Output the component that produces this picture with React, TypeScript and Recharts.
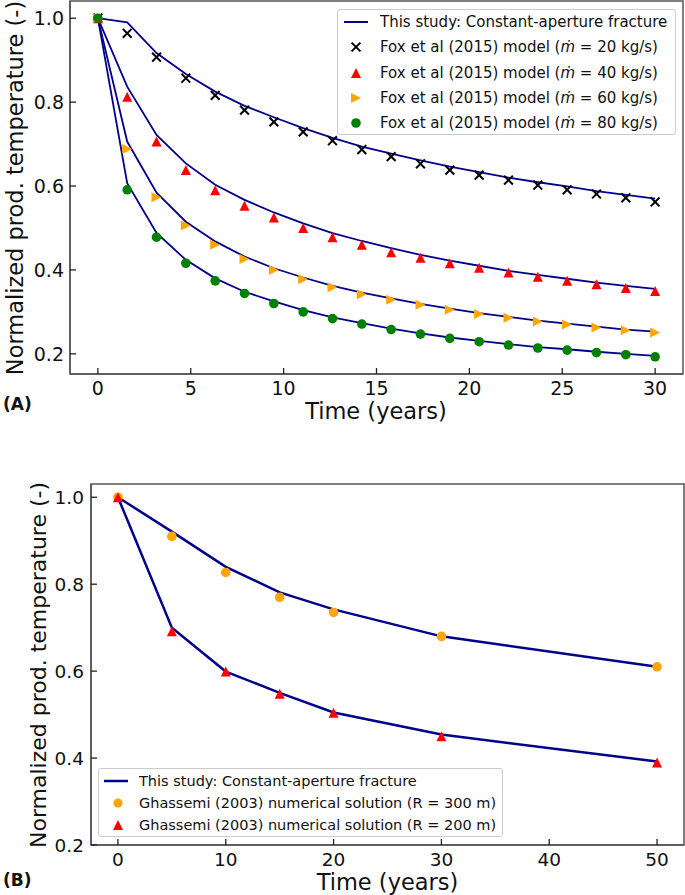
import { ComposedChart, Line, Scatter, XAxis, YAxis, Legend, ReferenceArea } from "recharts";

const FONT = "'DejaVu Sans', sans-serif";
const NAVY = "#00008B";
const SPINE = "#555555";

// Panel A: Fox et al (2015) comparison
const timeA = [
  0, 1.579, 3.158, 4.737, 6.316, 7.895, 9.474, 11.053, 12.632, 14.211, 15.789,
  17.368, 18.947, 20.526, 22.105, 23.684, 25.263, 26.842, 28.421, 30,
];
const line20 = [1.0, 0.99, 0.917, 0.867, 0.825, 0.791, 0.764, 0.738, 0.715, 0.694, 0.677, 0.661, 0.646, 0.633, 0.62, 0.609, 0.599, 0.588, 0.579, 0.57];
const line40 = [1.0, 0.837, 0.722, 0.654, 0.603, 0.567, 0.537, 0.511, 0.488, 0.469, 0.452, 0.436, 0.422, 0.41, 0.398, 0.388, 0.379, 0.37, 0.362, 0.355];
const line60 = [1.0, 0.706, 0.584, 0.515, 0.468, 0.432, 0.404, 0.382, 0.362, 0.346, 0.332, 0.319, 0.308, 0.297, 0.288, 0.279, 0.272, 0.265, 0.258, 0.253];
const line80 = [1.0, 0.607, 0.488, 0.424, 0.38, 0.348, 0.325, 0.304, 0.287, 0.273, 0.26, 0.249, 0.239, 0.231, 0.223, 0.216, 0.211, 0.205, 0.2, 0.195];
const fox20 = [1.0, 0.964, 0.907, 0.857, 0.816, 0.781, 0.753, 0.729, 0.708, 0.687, 0.67, 0.653, 0.638, 0.626, 0.614, 0.602, 0.591, 0.581, 0.572, 0.562];
const fox40 = [1.0, 0.813, 0.706, 0.638, 0.59, 0.553, 0.525, 0.5, 0.478, 0.46, 0.442, 0.429, 0.416, 0.405, 0.394, 0.384, 0.374, 0.366, 0.357, 0.35];
const fox60 = [1.0, 0.688, 0.573, 0.506, 0.46, 0.426, 0.4, 0.378, 0.359, 0.342, 0.329, 0.317, 0.305, 0.295, 0.286, 0.277, 0.27, 0.263, 0.256, 0.251];
const fox80 = [1.0, 0.591, 0.478, 0.416, 0.374, 0.344, 0.32, 0.3, 0.284, 0.271, 0.258, 0.247, 0.237, 0.229, 0.221, 0.214, 0.209, 0.203, 0.198, 0.193];

// Panel B: Ghassemi (2003) comparison
const timeB = [0, 5, 10, 15, 20, 30, 50];
const line300 = [1.0, 0.921, 0.84, 0.781, 0.742, 0.68, 0.61];
const line200 = [1.0, 0.7, 0.599, 0.55, 0.505, 0.454, 0.392];
const ghassemi300 = [1.0, 0.91, 0.827, 0.77, 0.735, 0.68, 0.61];
const ghassemi200 = [1.0, 0.692, 0.599, 0.548, 0.504, 0.45, 0.39];

const xTicksA = [0, 5, 10, 15, 20, 25, 30];
const xTicksB = [0, 10, 20, 30, 40, 50];
const yTicks = [0.2, 0.4, 0.6, 0.8, 1.0];

const xDomA: [number, number] = [-1.5, 31.5];
const yDomA: [number, number] = [0.152, 1.041];
const xDomB: [number, number] = [-2.5, 52.5];
const yDomB: [number, number] = [0.2, 1.0305];

const pts = (t: number[], v: number[]) => t.map((x, i) => ({ t: x, v: v[i] }));

// markers, matplotlib-like
const Cross = ({ cx, cy }: any) => {
  const h = 4.4;
  return (
    <path
      d={`M${cx - h},${cy - h}L${cx + h},${cy + h}M${cx - h},${cy + h}L${cx + h},${cy - h}`}
      stroke="#000"
      strokeWidth={2}
    />
  );
};
const TriUp = ({ cx, cy, h = 5, color = "#ff0000" }: any) => (
  <polygon points={`${cx},${cy - h} ${cx - h},${cy + h} ${cx + h},${cy + h}`} fill={color} />
);
const TriRight = ({ cx, cy, h = 5, color = "#ffa500" }: any) => (
  <polygon points={`${cx + h},${cy} ${cx - h},${cy - h} ${cx - h},${cy + h}`} fill={color} />
);
const Dot = ({ cx, cy, r = 4.8, color = "#008000" }: any) => (
  <circle cx={cx} cy={cy} r={r} fill={color} />
);

function makeXTick(fontSize: number) {
  return (props: any) => {
    const { x, y, payload } = props;
    return (
      <g>
        <line x1={x} y1={y} x2={x} y2={y - 6} stroke="#222" strokeWidth={1.3} />
        <text x={x} y={y + 21} textAnchor="middle" fontSize={fontSize} fill="#111" fontFamily={FONT}>
          {payload.value}
        </text>
      </g>
    );
  };
}

function makeYTick(fontSize: number, gap: number) {
  return (props: any) => {
    const { x, y, payload } = props;
    return (
      <g>
        <line x1={x} y1={y} x2={x + 6} y2={y} stroke="#222" strokeWidth={1.3} />
        <text x={x - gap} y={y} dy="0.36em" textAnchor="end" fontSize={fontSize} fill="#111" fontFamily={FONT}>
          {Number(payload.value).toFixed(1)}
        </text>
      </g>
    );
  };
}

const mdot = <i>ṁ</i>;

function LegendA() {
  const rows = [
    { icon: <line x1={6} y1={12} x2={30} y2={12} stroke={NAVY} strokeWidth={2} />, text: <>This study: Constant-aperture fracture</> },
    { icon: <Cross cx={18} cy={12} />, text: <>Fox et al (2015) model ({mdot} = 20 kg/s)</> },
    { icon: <TriUp cx={18} cy={12} />, text: <>Fox et al (2015) model ({mdot} = 40 kg/s)</> },
    { icon: <TriRight cx={18} cy={12} />, text: <>Fox et al (2015) model ({mdot} = 60 kg/s)</> },
    { icon: <Dot cx={18} cy={12} />, text: <>Fox et al (2015) model ({mdot} = 80 kg/s)</> },
  ];
  return (
    <div
      style={{
        position: "relative",
        width: 339,
        height: 126,
        boxSizing: "border-box",
        background: "rgba(255,255,255,0.85)",
        border: "1px solid #cccccc",
        borderRadius: 3,
        fontFamily: FONT,
        fontSize: 15,
        color: "#111",
      }}
    >
      {rows.map((r, i) => (
        <div key={i} style={{ position: "absolute", left: 0, top: i * 25.3, height: 24, display: "flex", alignItems: "center", whiteSpace: "nowrap" }}>
          <svg width={42} height={24} style={{ display: "block" }}>{r.icon}</svg>
          <span>{r.text}</span>
        </div>
      ))}
    </div>
  );
}

function LegendB() {
  const rows = [
    { icon: <line x1={5} y1={11} x2={29} y2={11} stroke={NAVY} strokeWidth={2.5} />, text: "This study: Constant-aperture fracture" },
    { icon: <Dot cx={19} cy={11} r={4.6} color="#ffa500" />, text: "Ghassemi (2003) numerical solution (R = 300 m)" },
    { icon: <TriUp cx={19} cy={11} />, text: "Ghassemi (2003) numerical solution (R = 200 m)" },
  ];
  return (
    <div
      style={{
        position: "relative",
        width: 405,
        height: 69,
        boxSizing: "border-box",
        background: "rgba(255,255,255,0.85)",
        border: "1px solid #cccccc",
        borderRadius: 3,
        fontFamily: FONT,
        fontSize: 14.5,
        color: "#111",
      }}
    >
      {rows.map((r, i) => (
        <div key={i} style={{ position: "absolute", left: 0, top: 1 + i * 22, height: 22, display: "flex", alignItems: "center", whiteSpace: "nowrap" }}>
          <svg width={40} height={22} style={{ display: "block" }}>{r.icon}</svg>
          <span>{r.text}</span>
        </div>
      ))}
    </div>
  );
}

function PanelA() {
  const lw = 1.8;
  return (
    <ComposedChart width={685} height={430} margin={{ top: 1, right: 2, bottom: 30, left: 0 }}>
      <XAxis
        dataKey="t"
        type="number"
        domain={xDomA}
        ticks={xTicksA}
        height={26}
        tickSize={0}
        tickMargin={0}
        tickLine={false}
        tick={makeXTick(19)}
        axisLine={{ stroke: SPINE, strokeWidth: 1.5 }}
        allowDataOverflow
      />
      <YAxis
        dataKey="v"
        type="number"
        domain={yDomA}
        ticks={yTicks}
        width={70}
        tickSize={0}
        tickMargin={0}
        tickLine={false}
        tick={makeYTick(19, 6)}
        axisLine={{ stroke: SPINE, strokeWidth: 1.5 }}
        allowDataOverflow
      />
      <ReferenceArea x1={xDomA[0]} x2={xDomA[1]} y1={yDomA[0]} y2={yDomA[1]} fill="none" fillOpacity={0} stroke={SPINE} strokeWidth={1.5} ifOverflow="visible" />
      <Line data={pts(timeA, line20)} dataKey="v" stroke={NAVY} strokeWidth={lw} dot={false} type="linear" isAnimationActive={false} />
      <Line data={pts(timeA, line40)} dataKey="v" stroke={NAVY} strokeWidth={lw} dot={false} type="linear" isAnimationActive={false} />
      <Line data={pts(timeA, line60)} dataKey="v" stroke={NAVY} strokeWidth={lw} dot={false} type="linear" isAnimationActive={false} />
      <Line data={pts(timeA, line80)} dataKey="v" stroke={NAVY} strokeWidth={lw} dot={false} type="linear" isAnimationActive={false} />
      <Scatter data={pts(timeA, fox20)} dataKey="v" shape={(p: any) => <Cross cx={p.cx} cy={p.cy} />} isAnimationActive={false} />
      <Scatter data={pts(timeA, fox40)} dataKey="v" shape={(p: any) => <TriUp cx={p.cx} cy={p.cy} />} isAnimationActive={false} />
      <Scatter data={pts(timeA, fox60)} dataKey="v" shape={(p: any) => <TriRight cx={p.cx} cy={p.cy} />} isAnimationActive={false} />
      <Scatter data={pts(timeA, fox80)} dataKey="v" shape={(p: any) => <Dot cx={p.cx} cy={p.cy} />} isAnimationActive={false} />
      <Legend
        layout="horizontal"
        verticalAlign="middle"
        align="center"
        content={() => <LegendA />}
        wrapperStyle={{ left: 337, top: 9, width: 339, height: 126 }}
      />
    </ComposedChart>
  );
}

function PanelB() {
  const lw = 2.5;
  return (
    <ComposedChart width={685} height={435} margin={{ top: 24, right: 1, bottom: 24, left: 0 }}>
      <XAxis
        dataKey="t"
        type="number"
        domain={xDomB}
        ticks={xTicksB}
        height={26}
        tickSize={0}
        tickMargin={0}
        tickLine={false}
        tick={makeXTick(18.5)}
        axisLine={{ stroke: SPINE, strokeWidth: 1.5 }}
        allowDataOverflow
      />
      <YAxis
        dataKey="v"
        type="number"
        domain={yDomB}
        ticks={yTicks}
        width={91}
        tickSize={0}
        tickMargin={0}
        tickLine={false}
        tick={makeYTick(18.5, 7)}
        axisLine={{ stroke: SPINE, strokeWidth: 1.5 }}
        allowDataOverflow
      />
      <ReferenceArea x1={xDomB[0]} x2={xDomB[1]} y1={yDomB[0]} y2={yDomB[1]} fill="none" fillOpacity={0} stroke={SPINE} strokeWidth={1.5} ifOverflow="visible" />
      <Line data={pts(timeB, line300)} dataKey="v" stroke={NAVY} strokeWidth={lw} dot={false} type="linear" isAnimationActive={false} />
      <Line data={pts(timeB, line200)} dataKey="v" stroke={NAVY} strokeWidth={lw} dot={false} type="linear" isAnimationActive={false} />
      <Scatter data={pts(timeB, ghassemi300)} dataKey="v" shape={(p: any) => <Dot cx={p.cx} cy={p.cy} r={4.8} color="#ffa500" />} isAnimationActive={false} />
      <Scatter data={pts(timeB, ghassemi200)} dataKey="v" shape={(p: any) => <TriUp cx={p.cx} cy={p.cy} />} isAnimationActive={false} />
      <Legend
        layout="horizontal"
        verticalAlign="middle"
        align="center"
        content={() => <LegendB />}
        wrapperStyle={{ left: 98, top: 308, width: 405, height: 69 }}
      />
    </ComposedChart>
  );
}

export default function App() {
  const title = { fontFamily: FONT, fill: "#111" };
  return (
    <div style={{ position: "absolute", left: 0, top: 0, width: 685, height: 895, background: "#fff", overflow: "hidden" }}>
      <div style={{ position: "absolute", left: 0, top: 0 }}>
        <PanelA />
      </div>
      <div style={{ position: "absolute", left: 0, top: 460 }}>
        <PanelB />
      </div>
      <svg width={685} height={895} style={{ position: "absolute", left: 0, top: 0, pointerEvents: "none" }}>
        <text transform="translate(23,188) rotate(-90)" textAnchor="middle" fontSize={22.5} {...title}>
          Normalized prod. temperature (-)
        </text>
        <text x={376} y={419} textAnchor="middle" fontSize={22.5} {...title}>
          Time (years)
        </text>
        <text x={3} y={410} fontSize={17} fontWeight="bold" {...title}>
          (A)
        </text>
        <text transform="translate(46,665) rotate(-90)" textAnchor="middle" fontSize={22} {...title}>
          Normalized prod. temperature (-)
        </text>
        <text x={387.5} y={890} textAnchor="middle" fontSize={22.5} {...title}>
          Time (years)
        </text>
        <text x={3} y={886} fontSize={17} fontWeight="bold" {...title}>
          (B)
        </text>
      </svg>
    </div>
  );
}
